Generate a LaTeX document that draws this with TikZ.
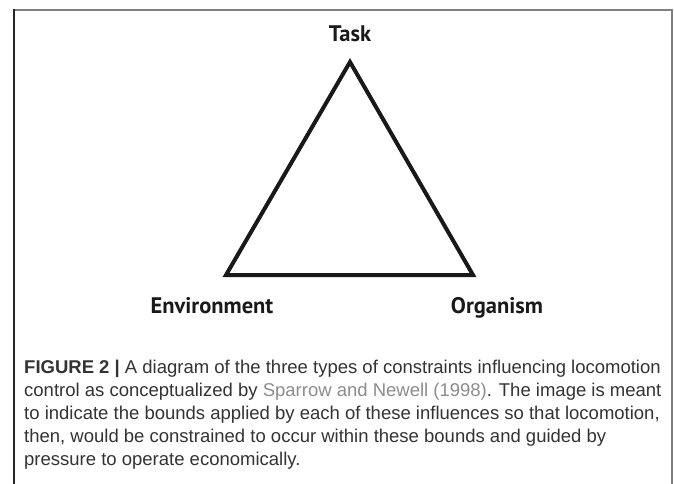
\documentclass[tikz,border=0pt]{standalone}
\usepackage{fontspec}
\setmainfont{Liberation Sans}
\newfontfamily\labelfont{PT Sans}
\definecolor{captext}{HTML}{333333}
\definecolor{citegray}{HTML}{8C8C8C}
\begin{document}
\begin{tikzpicture}[x=1pt, y=-1pt, every node/.style={inner sep=0pt}]
\tikzset{corner/.style={font=\labelfont\bfseries\fontsize{22.5}{26}\selectfont, text=black!90, anchor=base}}
\useasboundingbox (0,0) rectangle (674,484);
% frame
\draw[line width=1.5pt, gray] (14,10) -- (672,10) -- (672,484);
\draw[line width=1.5pt, black!85] (14,9.25) -- (14,484);
% triangle
\coordinate (apex) at (350,62);
\coordinate (left) at (226,275);
\coordinate (right) at (473,275);
\draw[line width=4pt, black!90] (apex) -- (left) -- (right) -- cycle;
\node[corner] (task) at (350,42) {Task};
\node[corner] (env) at (212,313) {Environment};
\node[corner] (org) at (497,313) {Organism};
% caption
\node[anchor=north west, align=left, text=captext, font=\fontsize{18.5}{23}\selectfont] (caption) at (24,360)
  {\textbf{FIGURE 2 |} A diagram of the three types of constraints influencing locomotion\\
   control as conceptualized by \textcolor{citegray}{Sparrow and Newell (1998)}. The image is meant\\
   to indicate the bounds applied by each of these influences so that locomotion,\\
   then, would be constrained to occur within these bounds and guided by\\
   pressure to operate economically.};
\end{tikzpicture}
\end{document}
